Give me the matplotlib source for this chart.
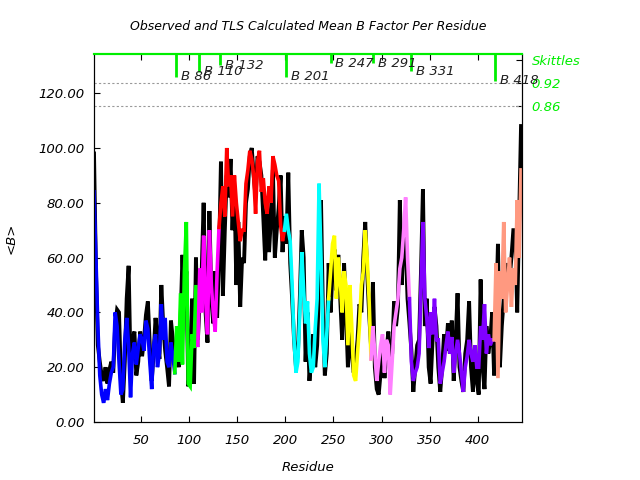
import numpy as np
import matplotlib
matplotlib.use('Agg')
import matplotlib.pyplot as plt

plt.rcParams['font.family'] = 'DejaVu Sans'
plt.rcParams['font.style'] = 'italic'
plt.rcParams['font.size'] = 9.5

# residue numbers (every 2nd residue)
residue = np.arange(1, 446, 2)

# observed mean B per residue (black)
obs_b = [98, 55, 28, 22, 17, 15, 20, 14, 19, 22,
         18, 35, 41, 40, 15, 7, 22, 45, 57, 20,
         30, 33, 17, 22, 33, 24, 30, 39, 44, 28,
         15, 25, 38, 30, 23, 50, 35, 26, 20, 13,
         37, 30, 25, 28, 20, 37, 61, 40, 55, 13,
         20, 45, 14, 60, 30, 45, 55, 80, 40, 29,
         77, 45, 36, 55, 38, 60, 95, 46, 70, 90,
         82, 96, 70, 86, 50, 73, 42, 60, 58, 80,
         85, 97, 100, 90, 82, 97, 95, 90, 75, 59,
         80, 62, 75, 92, 60, 70, 78, 90, 62, 75,
         65, 91, 58, 45, 30, 20, 25, 45, 70, 60,
         22, 40, 15, 25, 32, 20, 28, 50, 81, 40,
         17, 25, 58, 40, 55, 63, 48, 61, 45, 30,
         58, 40, 20, 38, 25, 18, 22, 30, 43, 40,
         60, 73, 55, 40, 28, 51, 20, 12, 10, 18,
         28, 16, 25, 33, 20, 25, 44, 35, 42, 81,
         50, 70, 65, 45, 36, 26, 11, 20, 28, 30,
         55, 85, 35, 45, 20, 14, 30, 42, 35, 20,
         11, 20, 32, 26, 36, 25, 37, 15, 30, 47,
         20, 15, 11, 25, 30, 44, 20, 11, 26, 15,
         10, 52, 20, 12, 35, 25, 30, 40, 17, 37,
         65, 20, 35, 45, 58, 50, 52, 60, 70, 70,
         40, 75, 108]

# TLS calculated mean B per residue (coloured by group)
tls_b = [84, 60, 35, 17, 10, 7, 12, 8, 14, 18,
         20, 40, 35, 22, 10, 12, 30, 38, 28, 9,
         25, 29, 21, 27, 32, 30, 26, 37, 34, 22,
         12, 28, 32, 20, 25, 43, 30, 38, 22, 20,
         29, 24, 18, 35, 22, 47, 21, 55, 73, 14,
         13, 32, 27, 50, 28, 56, 40, 68, 45, 32,
         70, 50, 40, 33, 55, 71, 80, 86, 75, 100,
         86, 90, 75, 90, 80, 73, 66, 70, 70, 87,
         92, 99, 96, 90, 76, 95, 99, 84, 89, 80,
         76, 86, 80, 97, 94, 90, 88, 72, 66, 70,
         76, 70, 66, 50, 30, 18, 22, 40, 62, 48,
         36, 44, 25, 18, 20, 34, 45, 87, 60, 30,
         20, 32, 45, 55, 65, 68, 45, 60, 52, 40,
         55, 50, 28, 50, 35, 17, 15, 25, 35, 50,
         55, 70, 60, 45, 23, 35, 25, 15, 22, 28,
         32, 18, 30, 28, 10, 22, 35, 40, 45, 56,
         60, 70, 82, 60, 45, 22, 15, 18, 20, 25,
         50, 73, 45, 38, 27, 40, 32, 45, 30, 30,
         14, 18, 22, 28, 33, 25, 31, 18, 25, 30,
         25, 18, 11, 20, 24, 30, 25, 22, 28, 20,
         20, 35, 30, 43, 25, 32, 28, 30, 30, 58,
         16, 55, 45, 73, 40, 50, 60, 42, 56, 50,
         81, 60, 92]

group_start = [1, 86, 110, 132, 201, 247, 291, 331, 418]
group_color = ['#0000ff', '#00ff00', '#ff00ff', '#ff0000', '#00ffff',
               '#ffff00', '#ff80ff', '#8000ff', '#ff9980']

skittle_res = [86, 110, 132, 201, 247, 291, 331, 418]
skittle_val = [0.936, 0.949, 0.967, 0.936, 0.972, 0.972, 0.951, 0.926]

green = '#00ee00'

fig = plt.figure(figsize=(6.4, 4.8), dpi=100)
ax = fig.add_axes([94/640, 1-422/480, 428/640, 368/480])

obs_b = np.array(obs_b)
tls_b = np.array(tls_b)

ax.plot(residue, obs_b, color='black', lw=2.8, solid_joinstyle='miter')

ends = group_start[1:] + [10000]
for start, end, col in zip(group_start, ends, group_color):
    idx = np.where((residue >= start) & (residue < end))[0]
    if idx[0] > 0:
        idx = np.concatenate([[idx[0] - 1], idx])
    ax.plot(residue[idx], tls_b[idx], color=col, lw=2.6, solid_joinstyle='miter')

ax.set_xlim(1, 446)
ax.set_ylim(0, 134.3)
ax.set_xticks([50, 100, 150, 200, 250, 300, 350, 400])
ax.set_yticks([0, 20, 40, 60, 80, 100, 120])
ax.set_yticklabels(['%.2f' % v for v in [0, 20, 40, 60, 80, 100, 120]])
ax.tick_params(direction='in', length=4, top=True, right=True, labelright=False)
ax.tick_params(axis='x', pad=9)
ax.tick_params(axis='y', pad=7)
ax.set_xlabel('Residue')
ax.set_ylabel('<B>')
ax.xaxis.set_label_coords(0.5, -0.105)
ax.yaxis.set_label_coords(-0.178, 0.5)

ax2 = ax.twinx()
ax2.set_ylim(0.0357, 0.9957)
ax2.set_yticks([0.98, 0.92, 0.86])
ax2.set_yticklabels(['Skittles', '0.92', '0.86'])
ax2.tick_params(direction='in', length=4, pad=7, labelcolor=green)
for v in [0.92, 0.86]:
    ax2.axhline(v, color='#999999', lw=0.8, ls=(0, (2, 2)))
ax2.vlines(skittle_res, skittle_val, 0.9957, color=green, lw=2)
for r, v in zip(skittle_res, skittle_val):
    ax2.text(r + 5, v, 'B %d' % r, ha='left', va='center', color='#202020')

for a in (ax, ax2):
    a.spines['top'].set_color(green)
    a.spines['top'].set_linewidth(1.5)

fig.text(308/640, 1-27/480, 'Observed and TLS Calculated Mean B Factor Per Residue',
         ha='center', va='center', fontsize=9)

fig.savefig('out.png', dpi=100)
